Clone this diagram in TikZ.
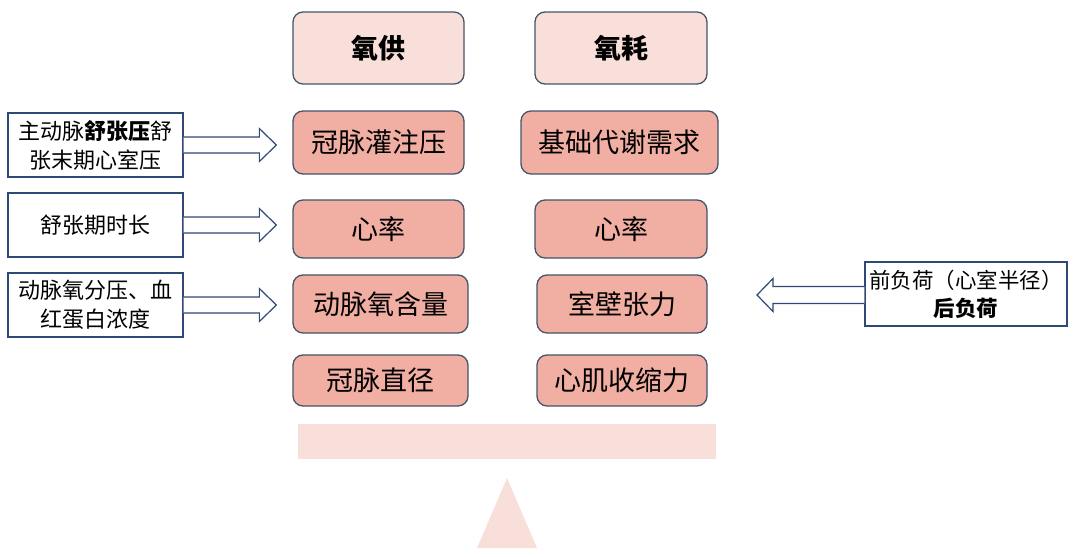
\documentclass[tikz,border=0pt]{standalone}
\usepackage{fontspec}
\setmainfont{Noto Sans CJK SC}
\usetikzlibrary{calc}
\definecolor{salmon}{RGB}{241,174,162}
\definecolor{lightpink}{RGB}{249,223,218}
\definecolor{slate}{RGB}{68,84,106}
\definecolor{navy}{RGB}{47,72,117}
\tikzset{
  box/.style={draw=slate, line width=1.3pt, rounded corners=10pt, fill=salmon,
    inner sep=0pt, font=\fontsize{27}{31}\selectfont},
  titlebox/.style={box, fill=lightpink, font=\fontsize{27}{31}\selectfont\bfseries},
  sidebox/.style={draw=navy, line width=1.2pt, fill=white, inner sep=0pt,
    align=center, font=\fontsize{22}{29}\selectfont},
  blockarr/.style={draw=navy, line width=1.2pt, fill=white, line join=miter},
  base/.style={fill=lightpink, draw=none}
}
\begin{document}
\begin{tikzpicture}[x=1pt,y=-1pt]
\useasboundingbox (0,0) rectangle (1080,557);
% header boxes
\node[titlebox, minimum width=171pt, minimum height=72pt] (t1) at (378.5,48) {氧供};
\node[titlebox, minimum width=172pt, minimum height=72pt] (t2) at (621,48) {氧耗};
% supply column
\node[box, minimum width=171pt, minimum height=63pt] (s1) at (378.5,142.5) {冠脉灌注压};
\node[box, minimum width=171pt, minimum height=58pt] (s2) at (378.5,229) {心率};
\node[box, minimum width=175pt, minimum height=58pt] (s3) at (380.5,304) {动脉氧含量};
\node[box, minimum width=175pt, minimum height=51pt] (s4) at (380.5,380.5) {冠脉直径};
% demand column
\node[box, minimum width=197pt, minimum height=63pt] (d1) at (619.5,142.5) {基础代谢需求};
\node[box, minimum width=172pt, minimum height=58pt] (d2) at (621,229) {心率};
\node[box, minimum width=170pt, minimum height=58pt] (d3) at (622,304) {室壁张力};
\node[box, minimum width=170pt, minimum height=51pt] (d4) at (622,380.5) {心肌收缩力};
% side boxes
\node[sidebox, minimum width=175pt, minimum height=64pt] (l1) at (95.5,145) {主动脉\textbf{舒张压}舒\\张末期心室压};
\node[sidebox, minimum width=175pt, minimum height=64pt] (l2) at (95.5,225) {舒张期时长};
\node[sidebox, minimum width=175pt, minimum height=64pt] (l3) at (95.5,305) {动脉氧分压、血\\红蛋白浓度};
\node[sidebox, minimum width=202pt, minimum height=64pt, font=\fontsize{21.5}{28}\selectfont] (r1) at (966,294) {前负荷（心室半径）\\\textbf{后负荷}};
% block arrows (right-pointing)
\foreach \a/\b in {l1/s1, l2/s2, l3/s3}{
  \draw[blockarr] let \p1=(\a.east), \p2=($(\b.west)+(-16pt,0)$) in
    (\x1,\y1+8pt) -- (\x2-17pt,\y1+8pt) -- (\x2-17pt,\y1+16.5pt) -- (\x2,\y1)
    -- (\x2-17pt,\y1-16.5pt) -- (\x2-17pt,\y1-8pt) -- (\x1,\y1-8pt);
}
% block arrow (left-pointing)
\coordinate (rtip) at (757,295);
\draw[blockarr] let \p1=(r1.west), \p2=(rtip) in
  (\x1,\y2+8.5pt) -- (\x2+16pt,\y2+8.5pt) -- (\x2+16pt,\y2+16.5pt) -- (\x2,\y2)
  -- (\x2+16pt,\y2-16.5pt) -- (\x2+16pt,\y2-8.5pt) -- (\x1,\y2-8.5pt);
% balance beam and fulcrum
\fill[base] (298,424) rectangle (716,459);
\fill[base] (507,478) -- (537,548) -- (477,548) -- cycle;
\end{tikzpicture}
\end{document}
